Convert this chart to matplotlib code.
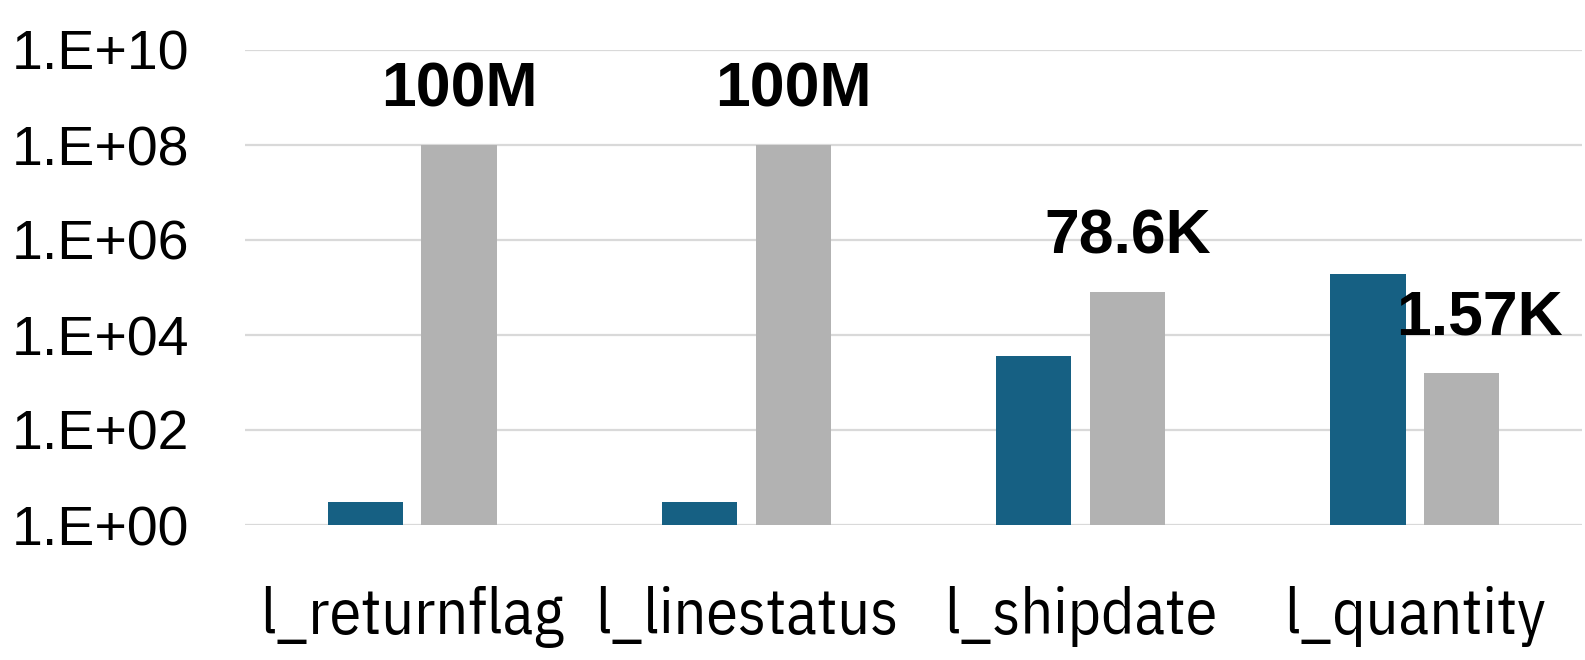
import numpy as np
import matplotlib
matplotlib.use("Agg")
import matplotlib.pyplot as plt
from matplotlib.ticker import FuncFormatter, FixedLocator, NullLocator

# data
columns = ["l_returnflag", "l_linestatus", "l_shipdate", "l_quantity"]
blue_vals = [3, 3, 3600, 190000]
gray_vals = [1e8, 1e8, 78600, 1570]
gray_labels = ["100M", "100M", "78.6K", "1.57K"]
yticks = [1e0, 1e2, 1e4, 1e6, 1e8, 1e10]

fig = plt.figure(figsize=(15.85, 6.6), dpi=100)
ax = fig.add_axes([245 / 1585, 1 - 525 / 660, (1582 - 245) / 1585, (525 - 50) / 660])

x = np.arange(len(columns))
w = 0.225
off = 0.14
ax.bar(x - off, blue_vals, width=w, color="#166083", zorder=3)
ax.bar(x + off, gray_vals, width=w, color="#b2b2b2", zorder=3)

ax.set_yscale("log")
ax.set_ylim(1, 1e10)
ax.set_xlim(-0.5, len(columns) - 0.5)
ax.yaxis.set_major_locator(FixedLocator(yticks))
ax.yaxis.set_minor_locator(NullLocator())
ax.yaxis.set_major_formatter(FuncFormatter(lambda v, p: "1.E+%02d" % round(np.log10(v))))
ax.grid(axis="y", color="#d9d9d9", linewidth=1.6, zorder=0)
for s in ax.spines.values():
    s.set_visible(False)
ax.tick_params(axis="y", length=0, pad=40, labelsize=40)
ax.tick_params(axis="x", length=0, pad=44)
ax.set_xticks(x)
ax.set_xticklabels(columns, fontsize=46, family=["IBM Plex Sans Condensed", "DejaVu Sans"])
for lab in ax.get_yticklabels():
    lab.set_family("Liberation Sans")

# value labels
shifts = [0, 0, 0, 13]
for i, (v, t) in enumerate(zip(gray_vals, gray_labels)):
    ax.annotate(t, (x[i] + off, v), xytext=(shifts[i], 28), textcoords="offset points",
                ha="center", va="baseline", fontsize=45, fontweight="bold",
                family="Liberation Sans", annotation_clip=False, zorder=4)

fig.savefig("out.png", dpi=100)
